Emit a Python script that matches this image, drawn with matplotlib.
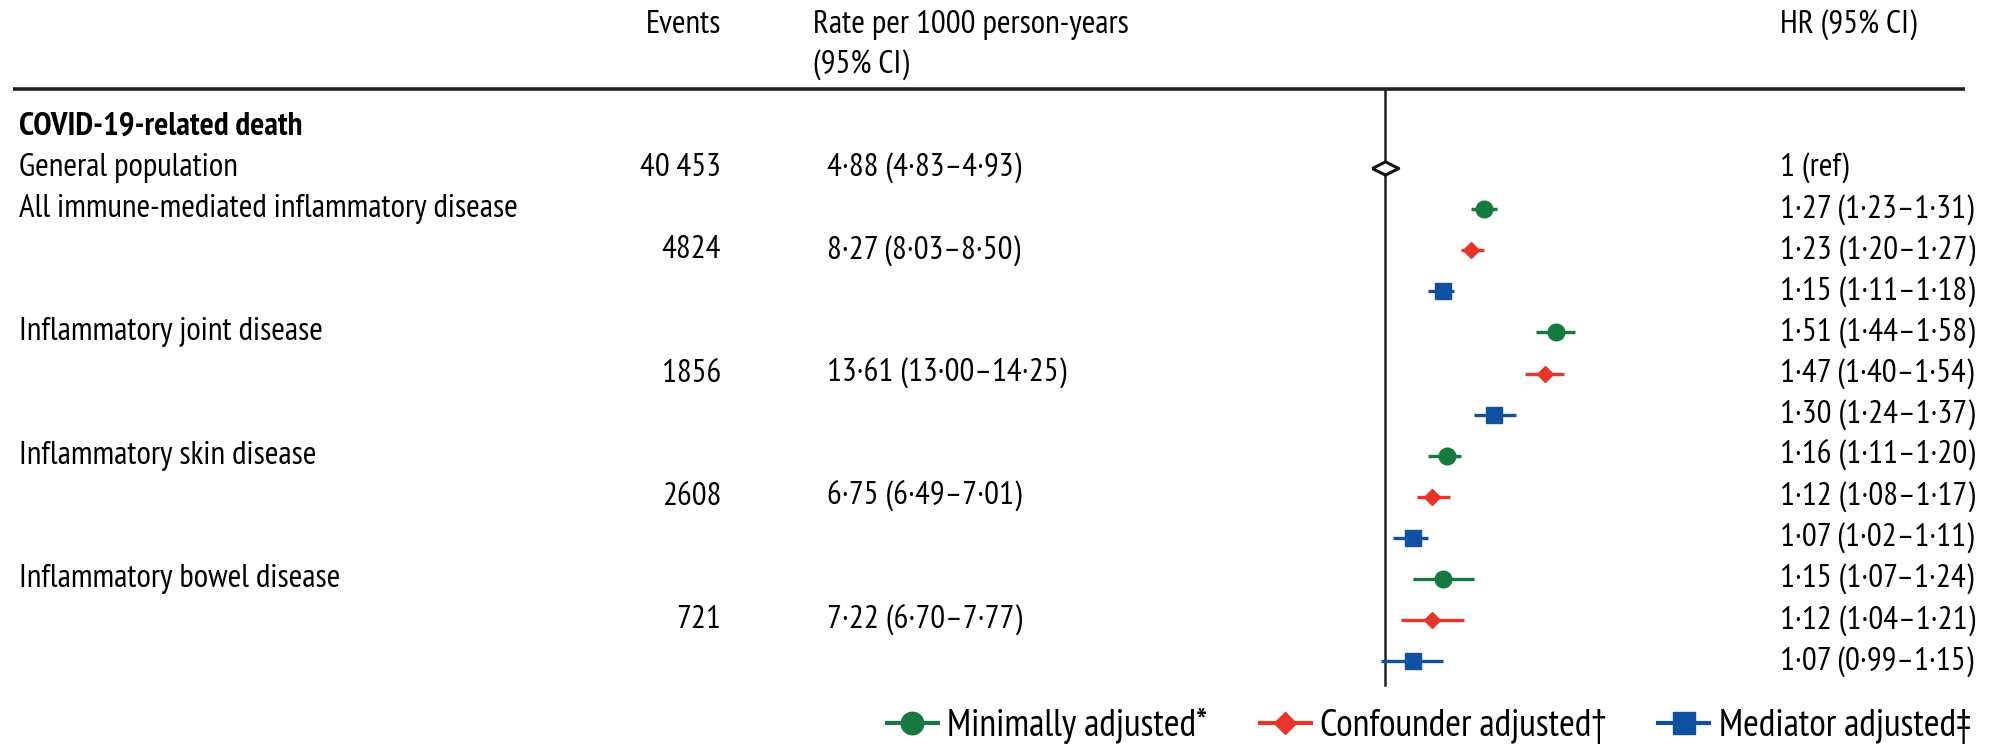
import math
import matplotlib
matplotlib.use("Agg")
import matplotlib.pyplot as plt
import matplotlib.transforms as mtransforms
from matplotlib import font_manager as fm
from matplotlib.lines import Line2D

# condensed face, close to the journal's typeface
installed = {f.name for f in fm.fontManager.ttflist}
candidates = ["PT Sans Narrow", "Fira Sans Condensed", "Roboto Condensed",
              "Archivo Narrow", "Asap Condensed", "Encode Sans Condensed"]
face = next((c for c in candidates if c in installed), "DejaVu Sans")
plt.rcParams['font.family'] = [face, 'DejaVu Sans']

# ---- data ----
row_labels = ["General population", "All immune-mediated inflammatory disease",
              "Inflammatory joint disease", "Inflammatory skin disease",
              "Inflammatory bowel disease"]
events = ["40\u2009453", "4824", "1856", "2608", "721"]
rates = ["4·88 (4·83–4·93)", "8·27 (8·03–8·50)", "13·61 (13·00–14·25)",
         "6·75 (6·49–7·01)", "7·22 (6·70–7·77)"]

hr_min = [1.27, 1.51, 1.16, 1.15]
lo_min = [1.23, 1.44, 1.11, 1.07]
hi_min = [1.31, 1.58, 1.20, 1.24]

hr_conf = [1.23, 1.47, 1.12, 1.12]
lo_conf = [1.20, 1.40, 1.08, 1.04]
hi_conf = [1.27, 1.54, 1.17, 1.21]

hr_med = [1.15, 1.30, 1.07, 1.07]
lo_med = [1.11, 1.24, 1.02, 0.99]
hi_med = [1.18, 1.37, 1.11, 1.15]

series = [
    ("Minimally adjusted*", hr_min, lo_min, hi_min, "#16793d", "o", 12),
    ("Confounder adjusted†", hr_conf, lo_conf, hi_conf, "#e9342a", "D", 8.3),
    ("Mediator adjusted‡", hr_med, lo_med, hi_med, "#0f51a0", "s", 11.5),
]

W, H = 1992, 747
fig = plt.figure(figsize=(W / 100, H / 100), dpi=100)
renderer = fig.canvas.get_renderer()


def fit_size(s, target_px, **kw):
    t = fig.text(0, 0, s, fontsize=10, **kw)
    w = t.get_window_extent(renderer).width
    t.remove()
    return 10 * target_px / w


fs = fit_size("All immune-mediated inflammatory disease", 498)
fs_leg = fit_size("Minimally adjusted*", 260)

# forest axes: log scale, HR=1 at pixel 1385
xmin, xmax = 0.9, 2.0
px_per_ln = 415
left_px = 1385 - px_per_ln * math.log(1 / xmin)
right_px = 1385 + px_per_ln * math.log(xmax)
ax = fig.add_axes([left_px / W, 0, (right_px - left_px) / W, 1])
ax.set_xscale("log")
ax.set_xlim(xmin, xmax)
row0_px, row_step = 168, 41.1
ax.set_ylim((H - row0_px) / row_step, -row0_px / row_step)
ax.axis("off")

tr = mtransforms.blended_transform_factory(fig.transFigure, ax.transData)
x_lab, x_ev, x_rate, x_hr = 19 / W, 721 / W, 827 / W, 1780 / W

# headers
ax.text(x_ev, -3.48, "Events", transform=tr, ha="right", va="center", fontsize=fs)
ax.text(813 / W, -3.48, "Rate per 1000 person-years", transform=tr, ha="left", va="center", fontsize=fs)
ax.text(813 / W, -2.51, "(95% CI)", transform=tr, ha="left", va="center", fontsize=fs)
ax.text(x_hr, -3.48, "HR (95% CI)", transform=tr, ha="left", va="center", fontsize=fs)

ax.plot([13 / W, 1965 / W], [-1.92, -1.92], transform=tr, color="#222222", lw=2.6,
        solid_capstyle="butt", clip_on=False)
ax.plot([1, 1], [-1.92, 12.58], color="#222222", lw=1.8, clip_on=False)

ax.text(x_lab, -1.0, "COVID-19-related death", transform=tr, ha="left", va="center",
        fontsize=fs, fontweight="semibold")

# row layout: general population is row 0, each disease gets 3 rows
label_rows = [0, 1, 4, 7, 10]
value_rows = [0, 2, 5, 8, 11]
for lab, r in zip(row_labels, label_rows):
    ax.text(x_lab, r, lab, transform=tr, ha="left", va="center", fontsize=fs)
for ev, rt, r in zip(events, rates, value_rows):
    ax.text(x_ev, r, ev, transform=tr, ha="right", va="center", fontsize=fs)
    ax.text(x_rate, r, rt, transform=tr, ha="left", va="center", fontsize=fs)

# reference group: flat open diamond
flat_diamond = [(-1, 0), (0, 0.5), (1, 0), (0, -0.5), (-1, 0)]
ax.plot([1], [0], marker=flat_diamond, ms=19, mfc="white", mec="#111111", mew=2.2, clip_on=False)
ax.text(x_hr, 0, "1 (ref)", transform=tr, ha="left", va="center", fontsize=fs)

for k, (name, hr, lo, hi, col, mk, ms) in enumerate(series):
    for i in range(len(hr)):
        y = 1 + 3 * i + k
        ax.plot([lo[i], hi[i]], [y, y], color=col, lw=2.4, solid_capstyle="butt", clip_on=False)
        ax.plot([hr[i]], [y], marker=mk, ms=ms, color=col, mec=col, clip_on=False)
        txt = f"{hr[i]:.2f} ({lo[i]:.2f}–{hi[i]:.2f})".replace(".", "·")
        ax.text(x_hr, y, txt, transform=tr, ha="left", va="center", fontsize=fs)

# legend markers are drawn a bit larger than in the plot
handles = [Line2D([], [], color=c, marker=m, ms=s * 1.35, lw=3, mec=c) for (_, _, _, _, c, m, s) in series]
fig.legend(handles, [s[0] for s in series], loc="center left", bbox_to_anchor=(887 / W, 1 - 726 / H),
           ncol=3, frameon=False, fontsize=fs_leg, borderpad=0, borderaxespad=0,
           handlelength=51 / (fs_leg * 1.389), handletextpad=0.25,
           columnspacing=52 / (fs_leg * 1.389))

fig.savefig("out.png", dpi=100)
